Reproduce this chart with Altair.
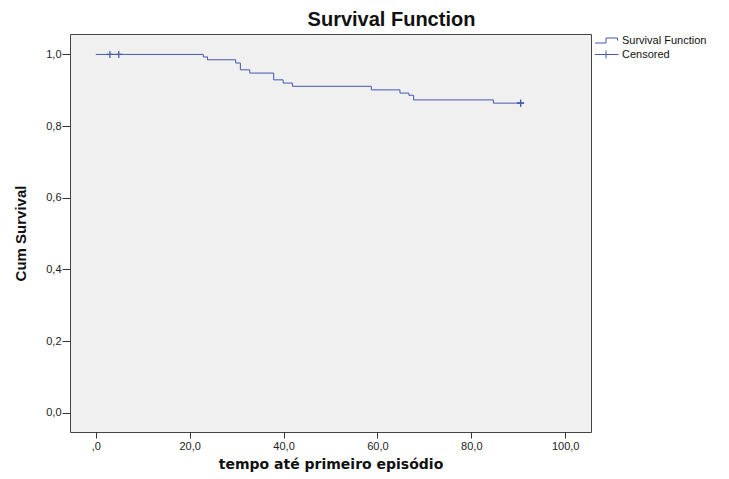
import altair as alt
import pandas as pd

# Kaplan-Meier estimate
times = [0.0, 22.9, 23.8, 29.8, 30.8, 32.8, 37.9, 39.9, 41.9, 58.7, 64.8, 66.7, 67.7, 84.7, 90.5]
surv = [1.000, 0.993, 0.985, 0.976, 0.957, 0.948, 0.929, 0.920, 0.911, 0.901, 0.892, 0.886, 0.873, 0.864, 0.864]
censor_times = [3.0, 4.9, 90.5, 90.5]
censor_surv = [1.000, 1.000, 0.864, 0.864]
legend_labels = ["Survival Function", "Censored"]
x_ticks = [0, 20, 40, 60, 80, 100]
y_ticks = [0.0, 0.2, 0.4, 0.6, 0.8, 1.0]

BLUE = "#4259B0"
FONT = "Liberation Sans"

line_df = pd.DataFrame({"t": times, "s": surv})
cens_df = pd.DataFrame({"t": censor_times, "s": censor_surv})
leg_df = pd.DataFrame({"label": legend_labels})

x_scale = alt.Scale(domain=[-5.5, 105.5], nice=False, zero=False)
y_scale = alt.Scale(domain=[-0.054, 1.057], nice=False, zero=False)

x_axis = alt.Axis(
    values=x_ticks, grid=False, domain=False, tickSize=6, tickColor="#333",
    labelExpr="datum.value == 0 ? ',0' : replace(format(datum.value, '.1f'), '.', ',')",
    labelFont=FONT, labelFontSize=11, labelColor="#222", labelPadding=2,
    title="tempo até primeiro episódio", titleFont="DejaVu Sans", titleFontSize=14,
    titleFontWeight="bold", titleColor="#111", titlePadding=6,
)
y_axis = alt.Axis(
    values=y_ticks, grid=False, domain=False, tickSize=8, tickColor="#333",
    labelExpr="replace(format(datum.value, '.1f'), '.', ',')",
    labelFont=FONT, labelFontSize=11, labelColor="#222", labelPadding=1,
    title="Cum Survival", titleFont=FONT, titleFontSize=15,
    titleFontWeight="bold", titleColor="#111", titlePadding=17,
)

line = alt.Chart(line_df).mark_line(
    interpolate="step-after", color=BLUE, strokeWidth=1
).encode(
    x=alt.X("t:Q", scale=x_scale, axis=x_axis),
    y=alt.Y("s:Q", scale=y_scale, axis=y_axis),
)

CROSS = "M-1,0 H1 M0,-1 V1"
cens = alt.Chart(cens_df).mark_point(
    shape=CROSS, size=49, filled=False, stroke=BLUE, strokeWidth=1.2, opacity=1
).encode(
    x=alt.X("t:Q", scale=x_scale),
    y=alt.Y("s:Q", scale=y_scale),
)

STEP_ICON = "M-2.5,0.5 H-0.3 V-0.5 H2.0 V0"
CROSS_ICON = "M-2.5,0 H2.2 M-0.3,-0.8 V0.8"
leg = alt.Chart(leg_df).mark_point(
    filled=False, stroke=BLUE, strokeWidth=1, opacity=0
).encode(
    x=alt.value(200),
    y=alt.value(200),
    shape=alt.Shape(
        "label:N",
        scale=alt.Scale(domain=legend_labels, range=[STEP_ICON, CROSS_ICON]),
        legend=alt.Legend(
            title=None, orient="none", legendX=532, legendY=1,
            symbolSize=100, symbolStrokeColor=BLUE, symbolFillColor="transparent",
            symbolStrokeWidth=1, symbolOpacity=1,
            labelFont=FONT, labelFontSize=11, labelColor="#111",
            labelOffset=9, rowPadding=2,
        ),
    ),
)

chart = alt.layer(line, cens, leg).properties(
    width=521,
    height=398,
    autosize=alt.AutoSizeParams(type="none"),
    padding={"left": 62, "top": 26, "right": 128, "bottom": 42},
    title=alt.TitleParams(
        "Survival Function", font=FONT, fontSize=20, fontWeight="bold",
        color="#111", anchor="middle", dx=61, offset=4,
    ),
).configure(
    background="white"
).configure_view(
    fill="#F0F0F0", stroke="#444", strokeWidth=1
)

chart.save("out.html", embed_options={"renderer": "svg", "actions": False})
